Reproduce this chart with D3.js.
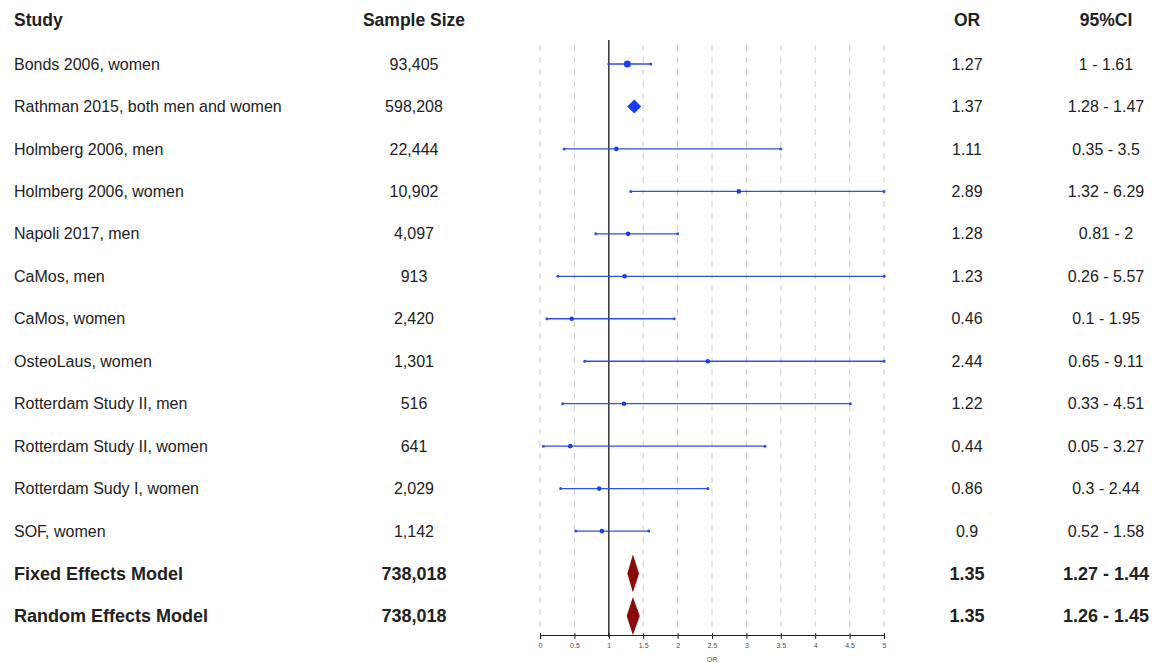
<!DOCTYPE html>
<html>
<head>
<meta charset="utf-8">
<script src="https://cdn.jsdelivr.net/npm/d3@7"></script>
<style>
  body { margin: 0; background: #fff; }
  text { font-family: "Liberation Sans", Arial, sans-serif; fill: #222; }
</style>
</head>
<body>
<div id="chart"></div>
<script>
// forest plot data
const studies = ["Bonds 2006, women", "Rathman 2015, both men and women", "Holmberg 2006, men",
  "Holmberg 2006, women", "Napoli 2017, men", "CaMos, men", "CaMos, women", "OsteoLaus, women",
  "Rotterdam Study II, men", "Rotterdam Study II, women", "Rotterdam Sudy I, women", "SOF, women",
  "Fixed Effects Model", "Random Effects Model"];
const sampleSizes = ["93,405", "598,208", "22,444", "10,902", "4,097", "913", "2,420", "1,301",
  "516", "641", "2,029", "1,142", "738,018", "738,018"];
const orValues = [1.27, 1.37, 1.11, 2.89, 1.28, 1.23, 0.46, 2.44, 1.22, 0.44, 0.86, 0.9, 1.35, 1.35];
const ciLow = [1, 1.28, 0.35, 1.32, 0.81, 0.26, 0.1, 0.65, 0.33, 0.05, 0.3, 0.52, 1.27, 1.26];
const ciHigh = [1.61, 1.47, 3.5, 6.29, 2, 5.57, 1.95, 9.11, 4.51, 3.27, 2.44, 1.58, 1.44, 1.45];
const rowType = ["big", "diamond", "dot", "dot", "dot", "dot", "dot", "dot", "dot", "dot", "dot", "dot", "summary", "summary"];
const xTicks = [0, 0.5, 1, 1.5, 2, 2.5, 3, 3.5, 4, 4.5, 5];

const width = 1153, height = 663;
const svg = d3.select("#chart").append("svg")
  .attr("width", width).attr("height", height);

const x = d3.scaleLinear().domain([0, 5]).range([540, 884]);
const y = d3.scalePoint().domain(d3.range(studies.length)).range([64, 616]);
const clip = v => Math.max(0, Math.min(5, v));

// headers
const headers = [["Study", 14, "start"], ["Sample Size", 414, "middle"], ["OR", 967, "middle"], ["95%CI", 1106, "middle"]];
svg.append("g").selectAll("text").data(headers).join("text")
  .attr("x", d => d[1]).attr("y", 20).attr("dy", "0.35em").attr("text-anchor", d => d[2])
  .style("font-weight", "bold").style("font-size", "17.5px").text(d => d[0]);

// grid lines
svg.append("g").selectAll("line")
  .data(xTicks.filter(t => t !== 1))
  .join("line")
  .attr("x1", d => x(d)).attr("x2", d => x(d))
  .attr("y1", 45).attr("y2", 632)
  .attr("stroke", "#ccc").attr("stroke-width", 1)
  .attr("stroke-dasharray", "6,6");

// reference line at 1
svg.append("line")
  .attr("x1", x(1)).attr("x2", x(1)).attr("y1", 40).attr("y2", 637)
  .attr("stroke", "#333").attr("stroke-width", 1.5);

// axis
const axis = d3.axisBottom(x).tickValues(xTicks).tickSize(4).tickFormat(d3.format("~g"));
const axG = svg.append("g").attr("transform", "translate(0,635)").call(axis);
axG.select(".domain").attr("stroke", "#222").attr("stroke-width", 1.2);
axG.selectAll(".tick line").attr("stroke", "#222").attr("y1", -2);
axG.selectAll(".tick text").style("font-size", "7px").style("fill", "#555").attr("dy", "0.9em")
  .style("font-family", "Liberation Sans, Arial, sans-serif");
svg.append("text").attr("x", x(2.5)).attr("y", 662).attr("text-anchor", "middle")
  .style("font-size", "7px").style("fill", "#555").text("OR");

// rows
const rows = svg.append("g").selectAll("g").data(studies).join("g")
  .attr("transform", (d, i) => `translate(0,${y(i)})`);
rows.each(function (d, i) {
  const g = d3.select(this);
  const bold = rowType[i] === "summary";
  const fs = bold ? "18px" : "16px";
  const cells = [[d, 14, "start"], [sampleSizes[i], 414, "middle"], [orValues[i], 967, "middle"],
    [ciLow[i] + " - " + ciHigh[i], 1106, "middle"]];
  cells.forEach(c => {
    g.append("text").attr("x", c[1]).attr("dy", "0.35em").attr("text-anchor", c[2])
      .style("font-size", fs).style("font-weight", bold ? "bold" : "normal").text(c[0]);
  });

  const blue = "#2f4fe8";
  if (rowType[i] === "summary") {
    const h = 19;
    g.append("path")
      .attr("d", `M${x(ciLow[i])},0 L${x(orValues[i])},${-h} L${x(ciHigh[i])},0 L${x(orValues[i])},${h} Z`)
      .attr("fill", "#8b0a0a");
  } else if (rowType[i] === "diamond") {
    const s = 7;
    const cx = x(orValues[i]);
    g.append("path")
      .attr("d", `M${cx - s},0 L${cx},${-s} L${cx + s},0 L${cx},${s} Z`)
      .attr("fill", "#1a3cf5");
  } else {
    const x1 = x(clip(ciLow[i])), x2 = x(clip(ciHigh[i]));
    g.append("line").attr("x1", x1).attr("x2", x2).attr("stroke", blue).attr("stroke-width", 1.3);
    g.append("circle").attr("cx", x1).attr("r", 1.5).attr("fill", blue);
    g.append("circle").attr("cx", x2).attr("r", 1.5).attr("fill", blue);
    g.append("circle").attr("cx", x(orValues[i])).attr("r", rowType[i] === "big" ? 3.5 : 2.3).attr("fill", "#1a3cf5");
  }
});
</script>
</body>
</html>
